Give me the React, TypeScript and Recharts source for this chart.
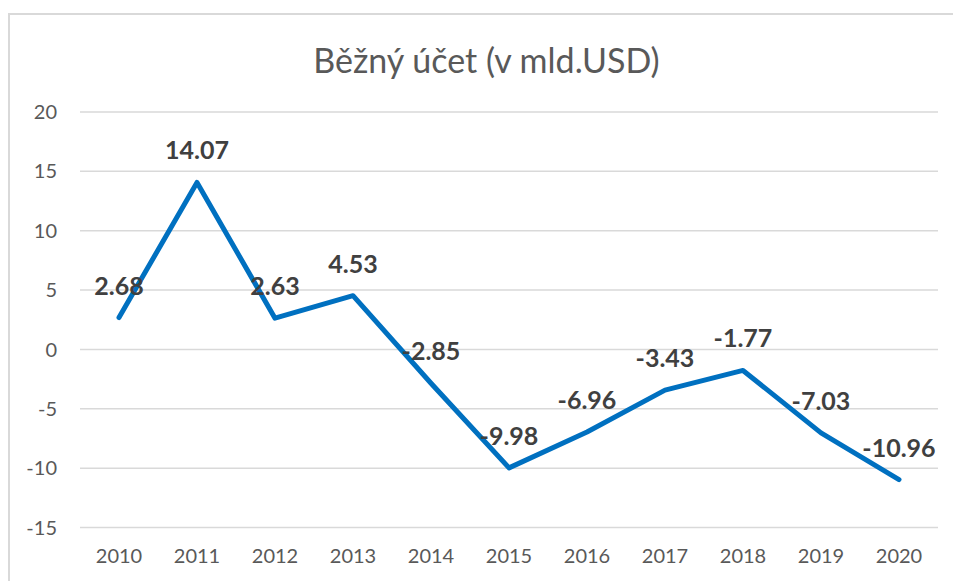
import { LineChart, Line, XAxis, YAxis, CartesianGrid, LabelList } from "recharts";

const roky = ["2010", "2011", "2012", "2013", "2014", "2015", "2016", "2017", "2018", "2019", "2020"];
const bezny = [2.68, 14.07, 2.63, 4.53, -2.85, -9.98, -6.96, -3.43, -1.77, -7.03, -10.96];
const yTicks = [-15, -10, -5, 0, 5, 10, 15, 20];
const nadpis = "Běžný účet (v mld.USD)";

const data = roky.map((rok, i) => ({ rok, hodnota: bezny[i] }));

const FONT = "Lato, 'Noto Sans', sans-serif";

const Stitek = (props: any) => {
  const { x, y, value } = props;
  return (
    <text
      x={x}
      y={y - 33}
      textAnchor="middle"
      dominantBaseline="central"
      fontFamily={FONT}
      fontWeight={700}
      fontSize={25}
      fill="#404040"
    >
      {value.toFixed(2)}
    </text>
  );
};

export default function App() {
  return (
    <div style={{ position: "absolute", left: 0, top: 0, width: 953, height: 581, overflow: "hidden", background: "#fff" }}>
      <div
        style={{
          position: "absolute",
          left: 8,
          top: 13,
          width: 960,
          height: 600,
          borderTop: "2px solid #D9D9D9",
          borderLeft: "2px solid #D9D9D9",
        }}
      />
      <div
        style={{
          position: "absolute",
          left: 0,
          top: 38,
          width: 973,
          textAlign: "center",
          fontFamily: FONT,
          fontSize: 34,
          color: "#595959",
          lineHeight: "44px",
        }}
      >
        {nadpis}
      </div>
      <div style={{ position: "absolute", left: 0, top: 0 }}>
        <LineChart width={953} height={581} data={data} margin={{ top: 112, right: 15, left: 8, bottom: 23.5 }}>
          <CartesianGrid vertical={false} stroke="#D9D9D9" strokeWidth={1.5} />
          <XAxis
            dataKey="rok"
            axisLine={false}
            tickLine={false}
            height={30}
            tickMargin={15}
            padding={{ left: 39, right: 39 }}
            tick={{ fill: "#595959", fontSize: 20, fontFamily: FONT }}
          />
          <YAxis
            domain={[-15, 20]}
            ticks={yTicks}
            width={72}
            axisLine={false}
            tickLine={false}
            tickMargin={17}
            tick={{ fill: "#595959", fontSize: 20, fontFamily: FONT }}
          />
          <Line
            type="linear"
            dataKey="hodnota"
            stroke="#0070C0"
            strokeWidth={5}
            dot={false}
            strokeLinecap="round"
            strokeLinejoin="round"
            isAnimationActive={false}
          >
            <LabelList dataKey="hodnota" content={Stitek} />
          </Line>
        </LineChart>
      </div>
    </div>
  );
}
